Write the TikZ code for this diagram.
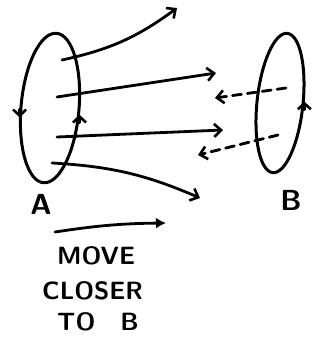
\documentclass[tikz,border=0pt]{standalone}
\usepackage{tikz}
\usetikzlibrary{arrows.meta,positioning,shapes.geometric}
\tikzset{
  sk/set/.style={draw, ellipse, line width=3pt, inner sep=0pt},
  sk/move/.style={line width=2.8pt, line cap=round, -{Straight Barb[length=7pt,width=13pt,line width=2.6pt]}},
  sk/back/.style={sk/move, dashed, dash pattern=on 9pt off 6pt},
  sk/dir/.style={line width=2.6pt, line cap=round, -{Straight Barb[length=6pt,width=13pt,line width=2.6pt]}},
  sk/label/.style={font=\fontsize{29}{31}\selectfont\sffamily\bfseries, inner sep=0pt},
  sk/note/.style={font=\fontsize{25}{28}\selectfont\sffamily\bfseries, inner sep=0pt, anchor=west}
}
\begin{document}
\begin{tikzpicture}[x=1pt, y=-1pt]
  \useasboundingbox[fill=white] (0,0) rectangle (325,341);
  % the two sets
  \node[sk/set, minimum width=58pt, minimum height=150pt, rotate=-5] (A) at (50,108) {};
  \node[sk/set, minimum width=46pt, minimum height=140pt, rotate=-6] (B) at (280,103) {};
  \node[sk/label] (labA) at (41,204) {A};
  \node[sk/label] (labB) at (291,200) {B};

  % direction marks on the outlines
  \draw[sk/dir] (A.west) ++(0,4) -- ++(0,8);
  \draw[sk/dir] (A.-15) ++(0,4) -- ++(0,-8);
  \draw[sk/dir] (B.east) ++(0,4) -- ++(0,-8);

  % outgoing moves from A
  \coordinate (s1) at (62,60);  \coordinate (t1) at (177,8);
  \coordinate (s2) at (57,97);  \coordinate (t2) at (216,73);
  \coordinate (s3) at (57,137); \coordinate (t3) at (223,130);
  \coordinate (s4) at (52,163); \coordinate (t4) at (200,198);
  \draw[sk/move] (s1) to[bend right=12] (t1);
  \draw[sk/move] (s2) -- (t2);
  \draw[sk/move] (s3) -- (t3);
  \draw[sk/move] (s4) to[bend left=10] (t4);

  % moves back from B
  \coordinate (u1) at (286,88);  \coordinate (v1) at (215,98);
  \coordinate (u2) at (278,135); \coordinate (v2) at (198,155);
  \draw[sk/back] (u1) -- (v1);
  \draw[sk/back] (u2) -- (v2);

  % legend
  \coordinate (m1) at (55,232); \coordinate (m2) at (166,223);
  \draw[sk/move, -{Latex[length=10pt,width=11pt]}] (m1) to[bend left=4] (m2);
  \node[sk/note] (move) at (57,256) {MOVE};
  \node[sk/note] (closer) at (42,291) {CLOSER};
  \node[sk/note] (tob) at (57,322) {TO\quad B};
\end{tikzpicture}
\end{document}
